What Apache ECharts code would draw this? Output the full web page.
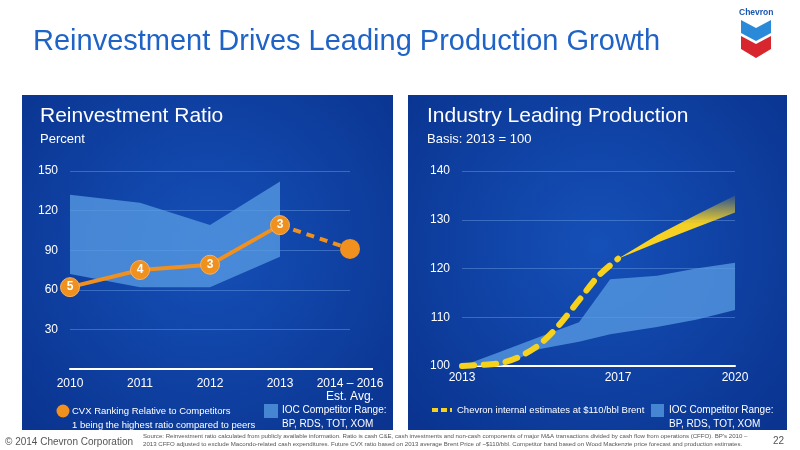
<!DOCTYPE html>
<html><head><meta charset="utf-8">
<script src="https://cdn.jsdelivr.net/npm/echarts@6/dist/echarts.min.js"></script>
<style>html,body{margin:0;padding:0;background:#fff}#c{width:800px;height:450px}</style>
</head><body><div id="c"></div>
<script>
// Left chart data
const leftCategories = ['2010','2011','2012','2013','2014 – 2016\nEst. Avg.'];
const leftBandLow = [72, 62, 62, 85, null];
const leftBandHigh = [132, 126, 109, 142, null];
const cvxRatio = [62, 75, 79, 109, null];
const cvxEst = [null, null, null, 109, 91];
const cvxRank = ['5','4','3','3'];
const leftTicks = [30, 60, 90, 120, 150];
// Right chart data
const bandX = [2013, 2014, 2015, 2016, 2016.8, 2018, 2019, 2020];
const rightBandLow = [100, 100, 103.5, 105, 106.5, 108, 109.5, 111.5];
const rightBandHigh = [100, 103, 106, 109, 117.8, 118.5, 120, 121.2];
const chevronX = [2013, 2013.4, 2014, 2014.5, 2015, 2015.5, 2016, 2016.5, 2017];
const chevronEst = [100, 100.2, 100.6, 102, 104.5, 108.5, 113.5, 118.5, 122];
const fanX = [2017, 2018, 2019, 2020];
const fanLow = [122, 125.3, 128.4, 131.5];
const fanHigh = [122, 126.8, 131, 135];
const rightTickLabels = [2013, 2017, 2020];

const diff = (a,b)=>a.map((v,i)=>v==null?null:v-b[i]);
const chart = echarts.init(document.getElementById('c'));
const panelFill = {type:'radial',x:0.5,y:0.45,r:0.75,colorStops:[{offset:0,color:'#1550b8'},{offset:1,color:'#0a3490'}]};
const bandColor = 'rgba(90,158,228,0.75)';
const gridLine = {lineStyle:{color:'rgba(110,160,230,0.45)',width:1}};
const F = 'Liberation Sans, Arial, sans-serif';

function bandRender(xs, lo, hi, fill){
  return function(params, api){
    const pts = [];
    xs.forEach((x,i)=>pts.push(api.coord([x, hi[i]])));
    for (let i = xs.length-1; i >= 0; i--) pts.push(api.coord([xs[i], lo[i]]));
    return {type:'polygon', shape:{points:pts}, style:{fill:fill}};
  };
}

chart.setOption({
  backgroundColor:'#fff',
  animation:false,
  textStyle:{fontFamily:F},
  graphic:[
    {type:'rect',z:-10,shape:{x:22,y:95,width:371,height:335},style:{fill:panelFill}},
    {type:'rect',z:-10,shape:{x:408,y:95,width:379,height:335},style:{fill:panelFill}},
    {type:'line',shape:{x1:349,y1:369,x2:373,y2:369},style:{stroke:'#fff',lineWidth:2}},
    {type:'text',left:33,top:27,style:{text:'Reinvestment Drives Leading Production Growth',fill:'#1f63c6',font:'29px '+F}},
    {type:'text',left:40,top:106,style:{text:'Reinvestment Ratio',fill:'#fff',font:'21px '+F}},
    {type:'text',left:40,top:133,style:{text:'Percent',fill:'#fff',font:'13px '+F}},
    {type:'text',left:427,top:106,style:{text:'Industry Leading Production',fill:'#fff',font:'21px '+F}},
    {type:'text',left:427,top:133,style:{text:'Basis: 2013 = 100',fill:'#fff',font:'13px '+F}},
    // left legend
    {type:'circle',shape:{cx:63,cy:411,r:6.5},style:{fill:'#f0901e'}},
    {type:'text',left:72,top:404,style:{text:'CVX Ranking Relative to Competitors\n1 being the highest ratio compared to peers',fill:'#fff',font:'9.5px '+F,lineHeight:14}},
    {type:'rect',shape:{x:264,y:404,width:14,height:14},style:{fill:bandColor}},
    {type:'text',left:282,top:403,style:{text:'IOC Competitor Range:\nBP, RDS, TOT, XOM',fill:'#fff',font:'10px '+F,lineHeight:14}},
    // right legend
    {type:'line',shape:{x1:432,y1:410,x2:452,y2:410},style:{stroke:'#f6d21c',lineWidth:4,lineDash:[6,3]}},
    {type:'text',left:457,top:405,style:{text:'Chevron internal estimates at $110/bbl Brent',fill:'#fff',font:'9.5px '+F}},
    {type:'rect',shape:{x:651,y:404,width:13,height:13},style:{fill:bandColor}},
    {type:'text',left:669,top:403,style:{text:'IOC Competitor Range:\nBP, RDS, TOT, XOM',fill:'#fff',font:'10px '+F,lineHeight:14}},
    // footer
    {type:'text',left:5,top:437,style:{text:'© 2014 Chevron Corporation',fill:'#555',font:'10px '+F}},
    {type:'text',left:143,top:432,style:{text:'Source: Reinvestment ratio calculated from publicly available information. Ratio is cash C&E, cash investments and non-cash components of major M&A transactions divided by cash flow from operations (CFFO). BP\'s 2010 –\n2013 CFFO adjusted to exclude Macondo-related cash expenditures. Future CVX ratio based on 2013 average Brent Price of ~$110/bbl. Competitor band based on Wood Mackenzie price forecast and production estimates.',fill:'#555',font:'6.1px '+F,lineHeight:8}},
    {type:'text',left:773,top:436,style:{text:'22',fill:'#555',font:'10px '+F}},
    // logo
    {type:'text',left:739,top:8,style:{text:'Chevron',fill:'#1a56b0',font:'bold 8.5px '+F}},
    {type:'polygon',shape:{points:[[741,20],[756,28],[771,20],[771,33],[756,41],[741,33]]},style:{fill:'#2a8ad8'}},
    {type:'polygon',shape:{points:[[741,36],[756,44],[771,36],[771,49],[756,58],[741,49]]},style:{fill:'#d8262e'}}
  ],
  grid:[
    {left:70,right:450,top:171,bottom:81},
    {left:462,right:65,top:171,bottom:84}
  ],
  xAxis:[
    {type:'category',gridIndex:0,data:leftCategories,boundaryGap:false,
     axisLine:{lineStyle:{color:'#fff',width:2}},axisTick:{show:false},
     axisLabel:{color:'#fff',fontSize:12,margin:8,lineHeight:13,verticalAlign:'top',interval:0}},
    {type:'value',gridIndex:1,min:2013,max:2020,interval:1,
     axisLine:{lineStyle:{color:'#fff',width:2}},axisTick:{show:false},splitLine:{show:false},
     axisLabel:{color:'#fff',fontSize:12,margin:6,formatter:v=>rightTickLabels.includes(v)?String(v):''}}
  ],
  yAxis:[
    {type:'value',gridIndex:0,min:0,max:150,interval:30,
     axisLine:{show:false},axisTick:{show:false},splitLine:gridLine,
     axisLabel:{color:'#fff',fontSize:12,margin:12,formatter:v=>leftTicks.includes(v)?String(v):''}},
    {type:'value',gridIndex:1,min:100,max:140,interval:10,
     axisLine:{show:false},axisTick:{show:false},splitLine:gridLine,
     axisLabel:{color:'#fff',fontSize:12,margin:12}}
  ],
  series:[
    {type:'line',xAxisIndex:0,yAxisIndex:0,stack:'lb',data:leftBandLow,symbol:'none',lineStyle:{opacity:0},silent:true},
    {type:'line',xAxisIndex:0,yAxisIndex:0,stack:'lb',data:diff(leftBandHigh,leftBandLow),symbol:'none',lineStyle:{opacity:0},areaStyle:{color:bandColor,opacity:1}},
    {type:'line',xAxisIndex:0,yAxisIndex:0,data:cvxEst,symbol:'circle',
     symbolSize:(v,p)=>p.dataIndex===4?20:0,itemStyle:{color:'#f0901e'},
     lineStyle:{color:'#f0901e',width:4,type:[8,6]},z:5},
    {type:'line',xAxisIndex:0,yAxisIndex:0,data:cvxRatio,symbol:'circle',symbolSize:19,
     itemStyle:{color:'#f0901e',borderColor:'#f6b060',borderWidth:1},
     lineStyle:{color:'#f0901e',width:4},z:6,
     label:{show:true,position:'inside',color:'#fff',fontWeight:'bold',fontSize:12,formatter:p=>cvxRank[p.dataIndex]}},
    {type:'custom',xAxisIndex:1,yAxisIndex:1,data:[[2013,100]],z:2,
     renderItem:bandRender(bandX,rightBandLow,rightBandHigh,bandColor)},
    {type:'custom',xAxisIndex:1,yAxisIndex:1,data:[[2017,122]],z:3,
     renderItem:bandRender(fanX,fanLow,fanHigh,{type:'linear',x:0,y:0,x2:0,y2:1,colorStops:[{offset:0,color:'rgba(255,215,30,0.1)'},{offset:0.45,color:'rgba(255,215,30,0.95)'},{offset:1,color:'#ffd61e'}]})},
    {type:'line',xAxisIndex:1,yAxisIndex:1,data:chevronX.map((x,i)=>[x,chevronEst[i]]),symbol:'none',smooth:0.3,
     lineStyle:{color:'#f6d21c',width:6,type:[12,10],cap:'round'},z:6}
  ]
});
</script></body></html>
